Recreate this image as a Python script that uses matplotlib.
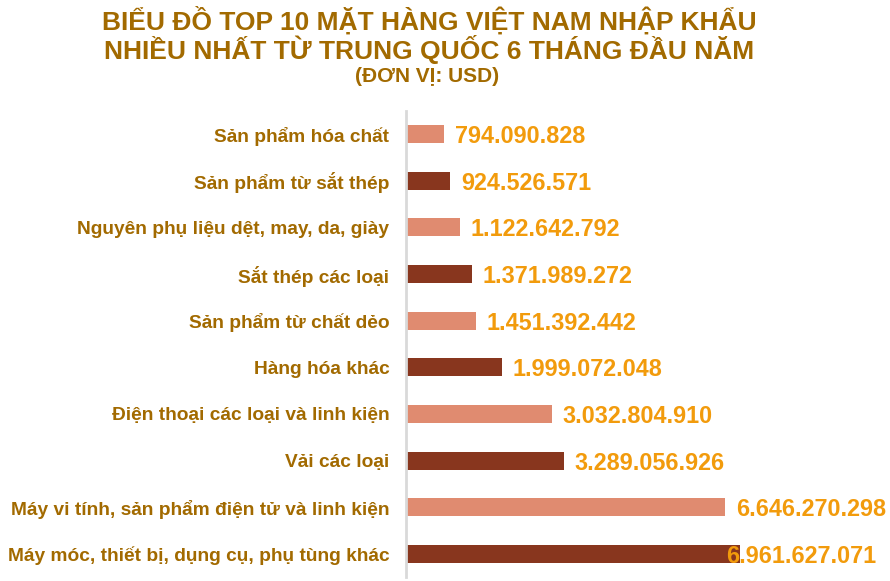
import matplotlib
matplotlib.use("Agg")
import matplotlib.pyplot as plt

categories = [
    "Sản phẩm hóa chất",
    "Sản phẩm từ sắt thép",
    "Nguyên phụ liệu dệt, may, da, giày",
    "Sắt thép các loại",
    "Sản phẩm từ chất dẻo",
    "Hàng hóa khác",
    "Điện thoại các loại và linh kiện",
    "Vải các loại",
    "Máy vi tính, sản phẩm điện tử và linh kiện",
    "Máy móc, thiết bị, dụng cụ, phụ tùng khác",
]
values = [794090828, 924526571, 1122642792, 1371989272, 1451392442,
          1999072048, 3032804910, 3289056926, 6646270298, 6961627071]
value_labels = ["794.090.828", "924.526.571", "1.122.642.792", "1.371.989.272",
                "1.451.392.442", "1.999.072.048", "3.032.804.910", "3.289.056.926",
                "6.646.270.298", "6.961.627.071"]
title_lines = [
    "BIỂU ĐỒ TOP 10 MẶT HÀNG VIỆT NAM NHẬP KHẨU",
    "NHIỀU NHẤT TỪ TRUNG QUỐC 6 THÁNG ĐẦU NĂM",
    "(ĐƠN VỊ: USD)",
]

plt.rcParams['font.family'] = ['Liberation Sans', 'DejaVu Sans']

light = '#E08B70'
dark = '#88361E'
gold = '#A26A00'
orange = '#F29B0C'

W, H = 890, 581
fig = plt.figure(figsize=(W / 100, H / 100), dpi=100)
ax = fig.add_axes([406 / W, (H - 577.3) / H, 480 / W, (577.3 - 110.7) / H])

ypos = list(range(len(categories)))
colors = [light if i % 2 == 0 else dark for i in ypos]
ax.barh(ypos, values, height=0.39, color=colors)
ax.set_ylim(len(categories) - 0.5, -0.5)
ax.set_xlim(0, 10e9)

ax.set_yticks(ypos)
ax.set_yticklabels(categories, fontsize=13.8, fontweight='bold', color=gold)
ax.tick_params(axis='y', length=0, pad=12)
ax.set_xticks([])
for s in ['top', 'right', 'bottom']:
    ax.spines[s].set_visible(False)
ax.spines['left'].set_color('#D9D9D9')
ax.spines['left'].set_linewidth(2)

vmax = max(values)
for i, (v, lab) in enumerate(zip(values, value_labels)):
    off = -14 if v == vmax else 11
    ax.annotate(lab, (v, i), xytext=(off, 0), textcoords='offset pixels',
                ha='left', va='center_baseline', fontsize=16.8, fontweight='bold',
                color=orange)

fig.text(429.5 / W, 1 - 30 / H, title_lines[0], ha='center', va='baseline',
         fontsize=19, fontweight='bold', color=gold)
fig.text(429.5 / W, 1 - 59 / H, title_lines[1], ha='center', va='baseline',
         fontsize=19, fontweight='bold', color=gold)
fig.text(427.5 / W, 1 - 82 / H, title_lines[2], ha='center', va='baseline',
         fontsize=15, fontweight='bold', color=gold)

fig.savefig('out.png', dpi=100)
